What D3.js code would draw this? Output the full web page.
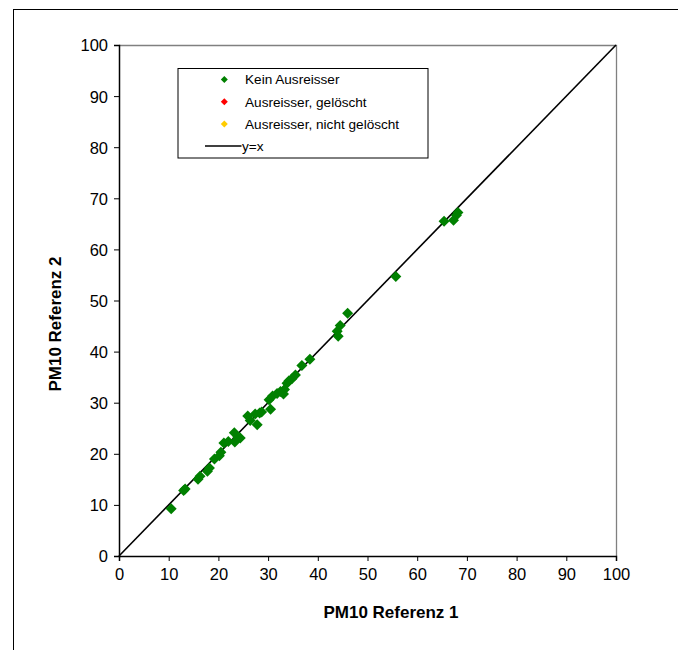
<!DOCTYPE html>
<html><head><meta charset="utf-8">
<script src="https://cdn.jsdelivr.net/npm/d3@7"></script>
<style>body{margin:0;background:#fff}svg{display:block;font-family:Arial,"Liberation Sans",sans-serif}</style>
</head><body>
<script>
const ref1 = [10.5,13.0,13.3,15.9,16.3,17.8,18.2,19.2,20.2,20.5,21.1,22.0,23.2,23.3,23.9,24.4,25.9,26.4,27.4,27.8,28.3,28.7,30.5,30.2,30.9,31.8,32.5,33.1,33.3,33.8,34.2,34.8,35.5,36.8,38.4,43.9,44.1,44.5,46.0,55.7,65.4,67.3,67.9,68.2];
const ref2 = [9.25,12.8,13.1,15.0,15.6,16.6,17.2,19.0,19.6,20.3,22.1,22.4,24.1,22.3,23.3,23.1,27.4,26.5,27.8,25.7,28.0,28.2,28.7,30.6,31.3,31.8,32.2,31.7,32.6,33.8,34.3,34.7,35.4,37.3,38.5,44.0,43.0,45.1,47.5,54.7,65.5,65.7,66.7,67.2];
const ticks = [0,10,20,30,40,50,60,70,80,90,100];
const legendLabels = ["Kein Ausreisser","Ausreisser, gelöscht","Ausreisser, nicht gelöscht","y=x"];
const legendColors = ["#008000","#ff0000","#ffcc00",null];
const xTitle = "PM10 Referenz 1", yTitle = "PM10 Referenz 2";

const W=678,H=650;
const svg=d3.select("body").append("svg").attr("width",W).attr("height",H);
const L=119,R=616,T=45,B=556;
const x=d3.scaleLinear().domain([0,100]).range([L,R]);
const y=d3.scaleLinear().domain([0,100]).range([B,T]);

// outer frame
svg.append("rect").attr("x",13.5).attr("y",9.5).attr("width",700).attr("height",700).attr("fill","none").attr("stroke","#000").attr("stroke-width",1);

// plot area border (top/right)
svg.append("path").attr("d",`M${L},${T+0.5}H${R+0.5}V${B}`).attr("fill","none").attr("stroke","#808080").attr("stroke-width",1.3);

// axes
const fmt=d3.format("d");
const xa=svg.append("g").attr("transform",`translate(0,${B})`).call(d3.axisBottom(x).tickValues(ticks).tickFormat(fmt).tickSizeOuter(0).tickSize(5).tickPadding(5));
const ya=svg.append("g").attr("transform",`translate(${L},0)`).call(d3.axisLeft(y).tickValues(ticks).tickFormat(fmt).tickSizeOuter(0).tickSize(5).tickPadding(6));
[xa,ya].forEach(g=>{g.select(".domain").attr("stroke","#000").attr("stroke-width",1.5);g.selectAll(".tick line").attr("stroke","#000");g.selectAll("text").attr("font-size",16.5).attr("fill","#000").attr("font-family","Arial,'Liberation Sans',sans-serif");});
xa.selectAll("text").attr("dy","0.85em");
ya.selectAll("text").attr("dy","0.36em");

// y = x line
svg.append("line").attr("x1",x(0)).attr("y1",y(0)).attr("x2",x(100)).attr("y2",y(100)).attr("stroke","#000").attr("stroke-width",1.6);

// points
const diamond=r=>`M0,${-r}L${r},0L0,${r}L${-r},0Z`;
svg.append("g").selectAll("path").data(ref1.map((v,i)=>[v,ref2[i]])).join("path")
  .attr("d",diamond(5.5)).attr("transform",d=>`translate(${x(d[0])},${y(d[1])})`).attr("fill","#008000");

// legend
const lg=svg.append("g");
lg.append("rect").attr("x",178).attr("y",68.5).attr("width",250).attr("height",89.5).attr("fill","#fff").attr("stroke","#000").attr("stroke-width",1);
const rowsY=[79.5,101.8,124,146];
legendLabels.forEach((t,i)=>{
  if(legendColors[i]) lg.append("path").attr("d",diamond(3.5)).attr("transform",`translate(224.3,${rowsY[i]})`).attr("fill",legendColors[i]);
  else lg.append("line").attr("x1",205).attr("x2",241.5).attr("y1",rowsY[i]).attr("y2",rowsY[i]).attr("stroke","#000").attr("stroke-width",1.6);
  lg.append("text").attr("x",i===3?242:245).attr("y",rowsY[i]).attr("dy","0.36em").attr("font-size",13.6).text(t);
});

// titles
svg.append("text").attr("x",391).attr("y",618).attr("text-anchor","middle").attr("font-weight","bold").attr("font-size",17).text(xTitle);
svg.append("text").attr("transform","translate(60.5,324) rotate(-90)").attr("text-anchor","middle").attr("font-weight","bold").attr("font-size",17).text(yTitle);
</script>
</body></html>
